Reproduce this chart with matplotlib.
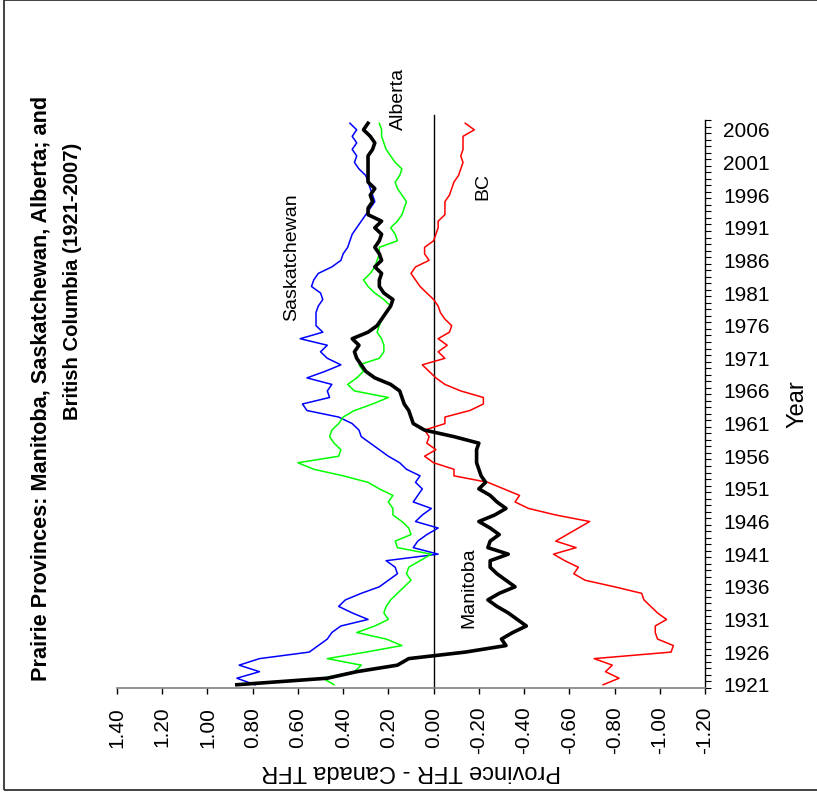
import matplotlib
matplotlib.use("Agg")
import matplotlib.pyplot as plt
from matplotlib.patches import Rectangle
import numpy as np

plt.rcParams['font.family'] = ['Liberation Sans', 'DejaVu Sans']

# difference between provincial TFR and Canada TFR, 1921-2007
years = list(range(1921, 2008))

manitoba = [0.87, 0.47, 0.34, 0.16, 0.11, -0.14, -0.32, -0.30, -0.35, -0.41,
            -0.37, -0.33, -0.28, -0.24, -0.29, -0.36, -0.32, -0.28, -0.25, -0.25,
            -0.33, -0.24, -0.25, -0.29, -0.25, -0.20, -0.27, -0.32, -0.28, -0.25,
            -0.20, -0.23, -0.21, -0.20, -0.19, -0.19, -0.19, -0.20, -0.09, 0.04,
            0.09, 0.10, 0.11, 0.13, 0.14, 0.15, 0.19, 0.26, 0.30, 0.32,
            0.34, 0.35, 0.33, 0.36, 0.29, 0.25, 0.23, 0.21, 0.19, 0.18,
            0.22, 0.24, 0.24, 0.23, 0.26, 0.23, 0.24, 0.26, 0.24, 0.23,
            0.26, 0.23, 0.29, 0.29, 0.27, 0.28, 0.26, 0.29, 0.29, 0.29,
            0.29, 0.29, 0.27, 0.26, 0.28, 0.31, 0.29]

saskatchewan = [0.79, 0.87, 0.77, 0.86, 0.77, 0.55, 0.51, 0.47, 0.45, 0.41,
                0.29, 0.36, 0.42, 0.39, 0.32, 0.24, 0.20, 0.16, 0.17, 0.21,
                -0.02, 0.09, 0.07, 0.03, -0.02, 0.08, 0.05, 0.01, 0.09, 0.07,
                0.05, 0.08, 0.06, 0.12, 0.15, 0.20, 0.24, 0.28, 0.32, 0.33,
                0.36, 0.42, 0.56, 0.58, 0.46, 0.47, 0.45, 0.56, 0.48, 0.41,
                0.47, 0.50, 0.47, 0.59, 0.49, 0.52, 0.52, 0.52, 0.51, 0.49,
                0.50, 0.54, 0.53, 0.51, 0.45, 0.41, 0.40, 0.38, 0.37, 0.36,
                0.34, 0.32, 0.30, 0.28, 0.26, 0.27, 0.28, 0.29, 0.30, 0.33,
                0.35, 0.34, 0.36, 0.34, 0.36, 0.34, 0.37]

alberta = [0.44, 0.49, 0.35, 0.32, 0.47, 0.30, 0.14, 0.21, 0.34, 0.26,
           0.20, 0.22, 0.21, 0.19, 0.16, 0.13, 0.10, 0.12, 0.11, 0.06,
           0.01, 0.16, 0.17, 0.10, 0.11, 0.14, 0.18, 0.18, 0.20, 0.18,
           0.24, 0.29, 0.40, 0.53, 0.60, 0.42, 0.41, 0.44, 0.46, 0.45,
           0.42, 0.40, 0.35, 0.27, 0.20, 0.35, 0.38, 0.34, 0.31, 0.33,
           0.24, 0.22, 0.22, 0.23, 0.25, 0.24, 0.23, 0.21, 0.19, 0.22,
           0.26, 0.29, 0.31, 0.28, 0.26, 0.25, 0.24, 0.24, 0.16, 0.17,
           0.19, 0.16, 0.14, 0.13, 0.12, 0.14, 0.16, 0.17, 0.15, 0.14,
           0.17, 0.19, 0.21, 0.22, 0.23, 0.23, 0.24]

bc = [-0.75, -0.82, -0.76, -0.79, -0.71, -1.05, -1.06, -0.99, -0.98, -0.98,
      -1.03, -0.99, -0.96, -0.93, -0.92, -0.80, -0.67, -0.62, -0.64, -0.58,
      -0.53, -0.63, -0.54, -0.59, -0.64, -0.69, -0.54, -0.42, -0.36, -0.38,
      -0.31, -0.24, -0.09, -0.09, 0.00, 0.04, -0.01, 0.03, 0.02, 0.04,
      -0.05, -0.05, -0.16, -0.22, -0.22, -0.12, -0.05, -0.01, 0.02, 0.05,
      -0.05, -0.02, -0.06, -0.02, -0.07, -0.08, -0.05, -0.03, -0.02, 0.00,
      0.03, 0.06, 0.08, 0.10, 0.08, 0.02, 0.04, 0.04, 0.00, -0.01,
      -0.02, -0.02, -0.05, -0.05, -0.05, -0.07, -0.08, -0.09, -0.11, -0.12,
      -0.13, -0.12, -0.13, -0.13, -0.13, -0.18, -0.14]

value_ticks = [1.40, 1.20, 1.00, 0.80, 0.60, 0.40, 0.20, 0.00,
               -0.20, -0.40, -0.60, -0.80, -1.00, -1.20]
year_ticks = list(range(1921, 2007, 5))

W, H = 817, 799
fig = plt.figure(figsize=(W / 100, H / 100), dpi=100)
ax = fig.add_axes([117 / W, 1 - 688 / H, 588 / W, 568 / H])

# chart is drawn turned on its side: values across, years going up
ax.plot(saskatchewan, years, color='#0000ff', lw=1.1, zorder=3)
ax.plot(alberta, years, color='#00ff00', lw=1.1, zorder=3)
ax.plot(bc, years, color='#ff0000', lw=1.1, zorder=3)
ax.plot(manitoba, years, color='black', lw=2.6, zorder=4)
ax.plot([0, 0], [1920.5, 2008.3], color='black', lw=1.0, zorder=2, clip_on=False)

ax.set_xlim(1.40, -1.20)
ax.set_ylim(1920.5, 2007.5)

ax.spines['left'].set_visible(False)
ax.spines['top'].set_visible(False)
ax.spines['bottom'].set_color('#808080')
ax.spines['bottom'].set_linewidth(1.2)
ax.spines['right'].set_color('black')
ax.spines['right'].set_linewidth(1.0)

ax.set_xticks(value_ticks)
ax.set_xticklabels(['%.2f' % v for v in value_ticks], rotation=90)
ax.tick_params(axis='x', direction='out', length=4.5, width=1.0,
               color='black', labelsize=15, pad=9)

ax.yaxis.tick_right()
ax.set_yticks(year_ticks)
ax.set_yticks(np.arange(1920.5, 2008, 1.0), minor=True)
ax.tick_params(axis='y', which='major', length=0, labelsize=15, pad=13)
ax.tick_params(axis='y', which='minor', direction='out', length=4.5,
               width=0.8, color='black')

ax.set_xlabel('Province TFR - Canada TFR', fontsize=17, rotation=180, labelpad=4)
ax.yaxis.set_label_position('right')
ax.set_ylabel('Year', fontsize=17, rotation=90, labelpad=12)

# series labels
ax.text(0.63, 1986.5, 'Saskatchewan', rotation=90, fontsize=14, ha='center', va='center')
ax.text(0.157, 2010.7, 'Alberta', rotation=90, fontsize=14, ha='center', va='center', clip_on=False)
ax.text(-0.218, 1997.3, 'BC', rotation=90, fontsize=14, ha='center', va='center')
ax.text(-0.157, 1935.9, 'Manitoba', rotation=90, fontsize=14, ha='center', va='center')

# title, two lines turned on the side
fig.text(41 / W, 1 - 388 / H, 'Prairie Provinces: Manitoba, Saskatchewan, Alberta; and',
         rotation=90, fontsize=15.6, fontweight='bold', ha='center', va='center')
fig.text(73 / W, 1 - 281 / H, 'British Columbia (1921-2007)',
         rotation=90, fontsize=14.6, fontweight='bold', ha='center', va='center')

# outer frame
fig.patches.append(Rectangle((4 / W, 1 - 790 / H), 1.0, 790 / H, transform=fig.transFigure,
                             fill=False, edgecolor='#333333', lw=1.3))

fig.savefig('out.png', dpi=100)
